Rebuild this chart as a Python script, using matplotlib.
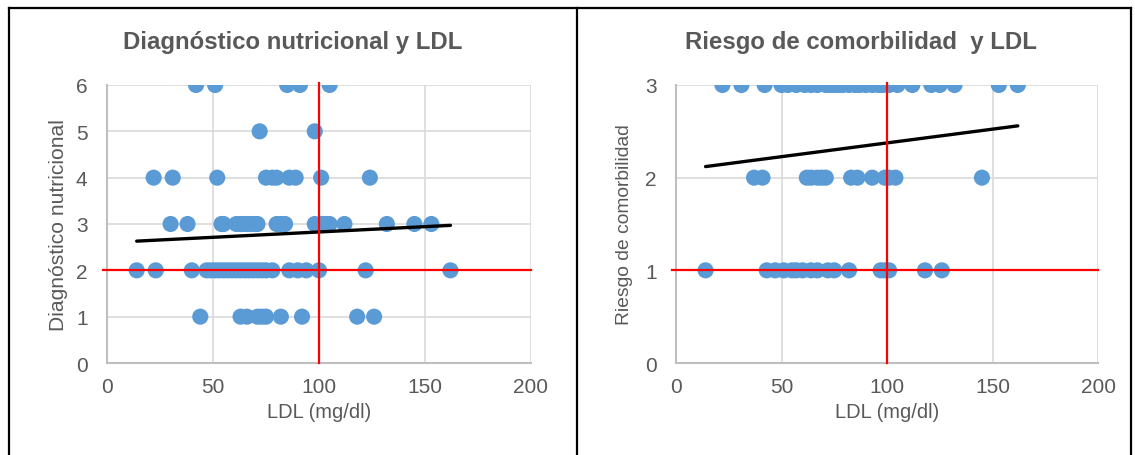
import matplotlib
matplotlib.use("Agg")
import matplotlib.pyplot as plt
from matplotlib.lines import Line2D

plt.rcParams['font.family'] = ['Liberation Sans', 'DejaVu Sans']

# Diagnóstico nutricional vs LDL
left_x = {
    6: [42, 51, 85, 91, 105],
    5: [72, 98],
    4: [22, 31, 52, 75, 78, 80, 86, 89, 101, 124],
    3: [30, 38, 54, 55, 61, 63, 64, 66, 68, 70, 71, 80, 82, 84, 98, 101, 103, 104, 105, 112, 132, 145, 153],
    2: [14, 23, 40, 47, 49, 51, 53, 55, 57, 59, 61, 63, 65, 67, 69, 71, 73, 75, 78, 86, 90, 94, 100, 122, 162],
    1: [44, 63, 66, 71, 73, 75, 82, 92, 118, 126],
}
left_trend = [0.0023, 2.598]   # pendiente, intercepto
left_ref = [100, 2]            # LDL, diagnóstico

# Riesgo de comorbilidad vs LDL
right_x = {
    3: [22, 31, 42, 50, 53, 57, 61, 64, 67, 71, 73, 75, 77, 79, 82, 85, 87, 90, 93, 96, 98, 101, 105, 112, 121, 125, 132, 153, 162],
    2: [37, 41, 62, 64, 67, 69, 71, 83, 86, 93, 99, 101, 104, 145],
    1: [14, 43, 47, 51, 55, 57, 60, 64, 67, 72, 75, 82, 97, 99, 101, 118, 126],
}
right_trend = [0.00297, 2.078]
right_ref = [100, 1]

titles = ["Diagnóstico nutricional y LDL", "Riesgo de comorbilidad  y LDL"]
ylabels = ["Diagnóstico nutricional", "Riesgo de comorbilidad"]
xlabel = "LDL (mg/dl)"

BLUE = '#5B9BD5'
GRAY_TXT = '#595959'

W, H = 1135, 456
fig = plt.figure(figsize=(W / 100, H / 100), dpi=100)


def px(x0, y0, x1, y1):
    return [x0 / W, 1 - y1 / H, (x1 - x0) / W, (y1 - y0) / H]


def draw(ax, data, trend, ref, ymax):
    for yv, xs in data.items():
        ax.scatter(xs, [yv] * len(xs), s=135, color=BLUE, edgecolors='none', zorder=3)
    allx = [x for xs in data.values() for x in xs]
    tx = [min(allx), max(allx)]
    ty = [trend[0] * v + trend[1] for v in tx]
    ax.plot(tx, ty, color='black', lw=2.4, zorder=4, solid_capstyle='round')
    ax.plot([ref[0], ref[0]], [0, ymax * 1.008], color='red', lw=1.6, zorder=5, clip_on=False)
    ax.plot([-2, 200], [ref[1], ref[1]], color='red', lw=1.6, zorder=5, clip_on=False)
    ax.set_xlim(0, 200)
    ax.set_ylim(0, ymax)
    ax.set_xticks([0, 50, 100, 150, 200])
    ax.set_yticks(range(0, ymax + 1))
    ax.grid(True, color='#d9d9d9', lw=1.2, zorder=0)
    ax.set_axisbelow(True)
    for s in ['top', 'right']:
        ax.spines[s].set_visible(False)
    for s in ['left', 'bottom']:
        ax.spines[s].set_color('#bfbfbf')
        ax.spines[s].set_linewidth(1.5)
    ax.tick_params(length=0, labelsize=15, colors=GRAY_TXT)
    ax.tick_params(axis='y', pad=14)
    ax.tick_params(axis='x', pad=10)


ax1 = fig.add_axes(px(107, 86, 531, 364))
draw(ax1, left_x, left_trend, left_ref, 6)
ax2 = fig.add_axes(px(676, 86, 1098, 364))
draw(ax2, right_x, right_trend, right_ref, 3)

fig.text(293 / W, 1 - 42 / H, titles[0], ha='center', va='center',
         fontsize=17.3, fontweight='bold', color=GRAY_TXT)
fig.text(861 / W, 1 - 42 / H, titles[1], ha='center', va='center',
         fontsize=17.3, fontweight='bold', color=GRAY_TXT)
fig.text(319 / W, 1 - 413 / H, xlabel, ha='center', va='center', fontsize=14.5, color=GRAY_TXT)
fig.text(887 / W, 1 - 413 / H, xlabel, ha='center', va='center', fontsize=14.5, color=GRAY_TXT)
fig.text(58 / W, 1 - 225 / H, ylabels[0], ha='center', va='center', rotation=90,
         fontsize=15.1, color=GRAY_TXT)
fig.text(625 / W, 1 - 225 / H, ylabels[1], ha='center', va='center', rotation=90,
         fontsize=13.9, color=GRAY_TXT)

# marco de los dos gráficos
for seg in [((9, 9), (9, 460)), ((9, 1131), (9, 9)), ((577, 577), (9, 460)), ((1131, 1131), (9, 460))]:
    xs, ys = seg
    fig.add_artist(Line2D([x / W for x in xs], [1 - y / H for y in ys], color='black', lw=1.6))

fig.savefig('out.png', dpi=100)
